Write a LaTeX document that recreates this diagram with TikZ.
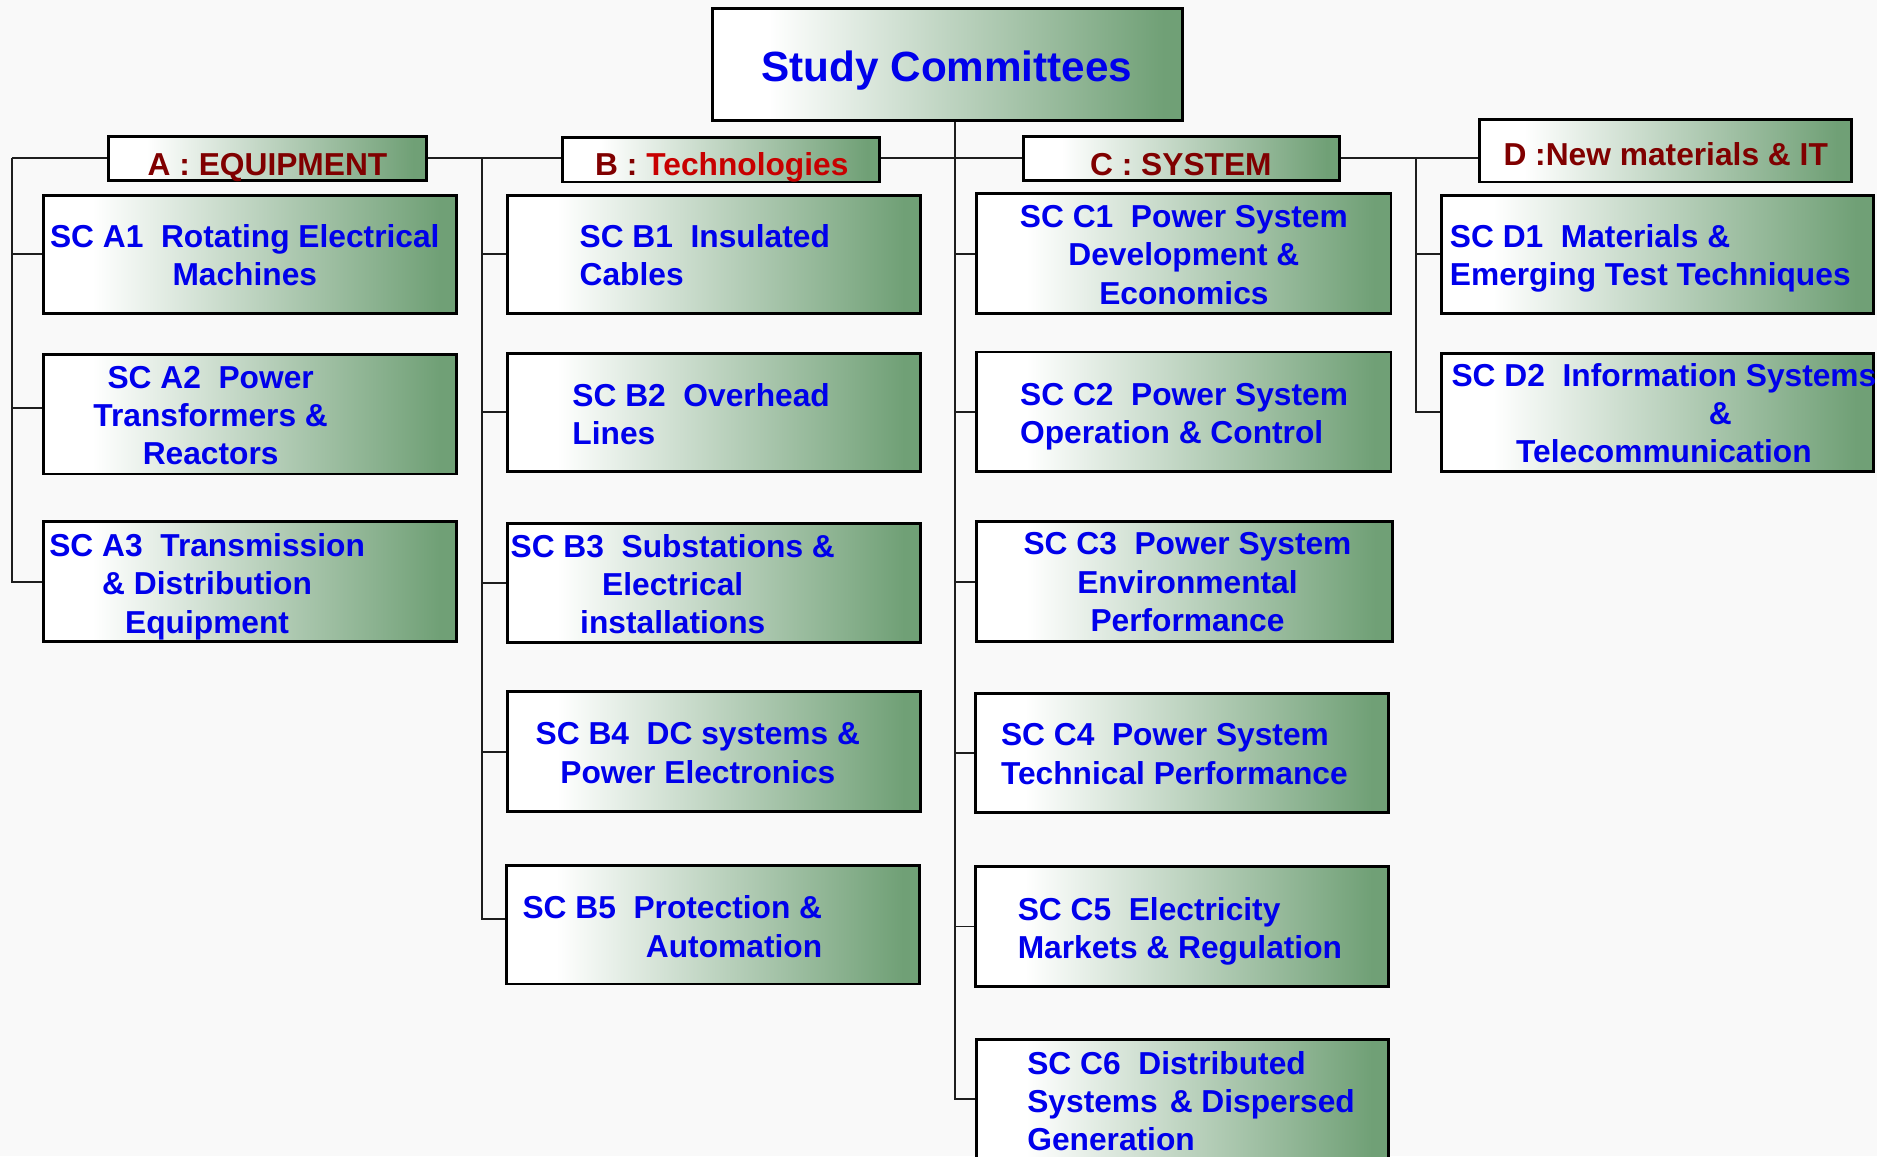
\documentclass[tikz,border=0pt]{standalone}
\usepackage{fontspec}
\setmainfont{Liberation Sans}
\definecolor{boxg}{RGB}{112,160,118}
\definecolor{txtblue}{RGB}{0,0,235}
\definecolor{dred}{RGB}{128,0,0}
\definecolor{bred}{RGB}{200,0,0}
\definecolor{bgc}{RGB}{249,249,249}
\definecolor{linec}{RGB}{30,30,30}
\pgfdeclarehorizontalshading{scshade}{100bp}{color(0bp)=(white); color(31bp)=(white); color(73bp)=(boxg); color(100bp)=(boxg)}
\pgfdeclarelayer{back}
\pgfdeclarelayer{lines}
\pgfsetlayers{back,lines,main}
\begin{document}
\begin{tikzpicture}[x=1pt,y=-1pt,
  box/.style={draw=black, line width=2.4pt, shade, shading=scshade, rectangle, inner sep=0pt},
  sctext/.style={text=txtblue, font=\fontsize{26.5}{32}\selectfont\bfseries, inner sep=0pt, align=center},
  hdtext/.style={text=dred, font=\fontsize{26.5}{32}\selectfont\bfseries, inner sep=0pt, anchor=base},
  conn/.style={draw=linec, line width=1.6pt}]
\useasboundingbox (0,0) rectangle (1568,966);
\begin{pgfonlayer}{back}
\fill[bgc] (0,0) rectangle (1568,966);
\end{pgfonlayer}

% boxes
\node[box, minimum width=393pt, minimum height=94pt] (title) at (791.5,54) {};
\node[box, minimum width=265pt, minimum height=37pt] (ah) at (223.5,132.5) {};
\node[box, minimum width=265pt, minimum height=37pt] (bh) at (602.5,133.5) {};
\node[box, minimum width=264pt, minimum height=37pt] (ch) at (987,132.5) {};
\node[box, minimum width=311pt, minimum height=52pt] (dh) at (1391.5,126) {};

\node[box, minimum width=345pt, minimum height=99pt] (a1) at (208.5,212.5) {};
\node[box, minimum width=345pt, minimum height=100pt] (a2) at (208.5,346) {};
\node[box, minimum width=345pt, minimum height=100pt] (a3) at (208.5,486) {};

\node[box, minimum width=345pt, minimum height=99pt] (b1) at (596.5,212.5) {};
\node[box, minimum width=345pt, minimum height=99pt] (b2) at (596.5,344.5) {};
\node[box, minimum width=345pt, minimum height=100pt] (b3) at (596.5,487) {};
\node[box, minimum width=345pt, minimum height=100pt] (b4) at (596.5,628) {};
\node[box, minimum width=345pt, minimum height=99pt] (b5) at (595.5,772.5) {};

\node[box, minimum width=346pt, minimum height=100pt] (c1) at (989,212) {};
\node[box, minimum width=346pt, minimum height=100pt] (c2) at (989,344) {};
\node[box, minimum width=347pt, minimum height=100pt] (c3) at (989.5,486) {};
\node[box, minimum width=345pt, minimum height=100pt] (c4) at (987.5,629) {};
\node[box, minimum width=345pt, minimum height=100pt] (c5) at (987.5,774) {};
\node[box, minimum width=344pt, minimum height=100pt] (c6) at (988,918) {};

\node[box, minimum width=361pt, minimum height=99pt] (d1) at (1384.5,212.5) {};
\node[box, minimum width=361pt, minimum height=99pt] (d2) at (1384.5,344.5) {};

% connectors
\coordinate (ja) at (10,132);
\coordinate (jb) at (403,132);
\coordinate (jc) at (798,132);
\coordinate (jd) at (1183,132);
\coordinate (a2j) at ([yshift=5pt]a2.west);
\coordinate (b5j) at ([yshift=4.5pt]b5.west);
\begin{pgfonlayer}{lines}
\draw[conn] (ja) -- (dh.west |- jd);
\draw[conn] (ja) |- (a3.west);
\draw[conn] (ja |- a1.west) -- (a1.west);
\draw[conn] (ja |- a2j) -- (a2j);
\draw[conn] (jb) |- (b5j);
\draw[conn] (jb |- b1.west) -- (b1.west);
\draw[conn] (jb |- b2.west) -- (b2.west);
\draw[conn] (jb |- b3.west) -- (b3.west);
\draw[conn] (jb |- b4.west) -- (b4.west);
\draw[conn] (title.south -| jc) -- (jc |- c6.west) -- (c6.west);
\draw[conn] (jc |- c1.west) -- (c1.west);
\draw[conn] (jc |- c2.west) -- (c2.west);
\draw[conn] (jc |- c3.west) -- (c3.west);
\draw[conn] (jc |- c4.west) -- (c4.west);
\draw[conn] (jc |- c5.west) -- (c5.west);
\draw[conn] (jd) |- (d2.west);
\draw[conn] (jd |- d1.west) -- (d1.west);
\end{pgfonlayer}

% texts
\node[font=\fontsize{35.3}{40}\selectfont\bfseries, text=txtblue, anchor=base, inner sep=0pt] (tt) at (791,68) {Study Committees};
\node[hdtext] (aht) at (223.5,146.5) {A : EQUIPMENT};
\node[hdtext] (bht) at (603,146.5) {B : \textcolor{bred}{Technologies}};
\node[hdtext] (cht) at (986.5,146.5) {C : SYSTEM};
\node[hdtext] (dht) at (1391.5,138.5) {D :New materials \& IT};

\node[sctext] (a1t) at (204.5,213) {SC A1~~Rotating Electrical\\Machines};
\node[sctext] (a2t) at (176,347) {SC A2~~Power\\Transformers \&\\Reactors};
\node[sctext] (a3t) at (173,490) {SC A3~~Transmission\\\& Distribution\\Equipment};
\node[sctext, align=left, anchor=west] (b1t) at (484,213) {SC B1~~Insulated\\Cables};
\node[sctext, align=left, anchor=west] (b2t) at (478,346) {SC B2~~Overhead\\Lines};
\node[sctext] (b3t) at (562,488) {SC B3~~Substations \&\\Electrical\\installations};
\node[sctext] (b4t) at (583,629) {SC B4~~DC systems \&\\Power Electronics};
\node[sctext, align=right, anchor=east] (b5t) at (687,774) {SC B5~~Protection \&\\Automation};
\node[sctext] (c1t) at (989,213) {SC C1~~Power System\\Development \&\\Economics};
\node[sctext, align=left, anchor=west] (c2t) at (852,348) {SC C2~~Power System\\Operation \& Control};
\node[sctext] (c3t) at (992,486.5) {SC C3~~Power System\\Environmental\\Performance};
\node[sctext, align=left, anchor=west] (c4t) at (836,630) {SC C4~~Power System\\Technical Performance};
\node[sctext, align=left, anchor=west] (c5t) at (850,778) {SC C5~~Electricity\\Markets \& Regulation};
\node[sctext, align=left, anchor=west] (c6t) at (858,920) {SC C6~~Distributed\\Systems\hspace{10pt}\& Dispersed\\Generation};
\node[sctext, align=left, anchor=west] (d1t) at (1211,216) {SC D1~~Materials \&\\Emerging Test Techniques};
\node[sctext] (d2t) at (1390,345) {SC D2~~Information Systems\\\hspace*{94pt}\&\\Telecommunication};
\end{tikzpicture}
\end{document}
